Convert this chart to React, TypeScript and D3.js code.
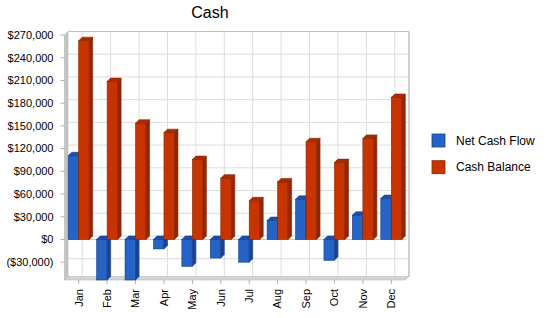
import * as d3 from 'd3'

const months = ['Jan', 'Feb', 'Mar', 'Apr', 'May', 'Jun', 'Jul', 'Aug', 'Sep', 'Oct', 'Nov', 'Dec']
const netCashFlow = [110500, -54000, -55000, -12500, -35500, -24500, -30000, 25000, 53000, -27500, 32000, 54000]
const cashBalance = [262500, 208500, 153500, 141000, 105500, 81000, 51000, 76000, 129000, 101500, 133500, 187500]
const yTicks = [-30000, 0, 30000, 60000, 90000, 120000, 150000, 180000, 210000, 240000, 270000]
const seriesNames = ['Net Cash Flow', 'Cash Balance']

const FONT = '"Liberation Sans", Arial, sans-serif'
const DEPTH = 3.5

const colors = [
  { front: '#2563c6', top: '#1d4fa8', side: '#1a4490', edge: '#18408a' },
  { front: '#c83400', top: '#a82c00', side: '#922600', edge: '#8a2400' },
]

const fmt = (v: number) => {
  const s = '$' + d3.format(',')(Math.abs(v))
  return v < 0 ? `(${s})` : s
}

function Bar({ x, w, y0, y1, c }: { x: number; w: number; y0: number; y1: number; c: typeof colors[0] }) {
  const top = Math.min(y0, y1)
  const bot = Math.max(y0, y1)
  const d = DEPTH
  return (
    <g>
      <rect x={x} y={top} width={w} height={bot - top} fill={c.front} stroke={c.edge} strokeWidth={0.6} />
      <polygon
        points={`${x},${top} ${x + d},${top - d} ${x + w + d},${top - d} ${x + w},${top}`}
        fill={c.top}
        stroke={c.edge}
        strokeWidth={0.6}
      />
      <polygon
        points={`${x + w},${top} ${x + w + d},${top - d} ${x + w + d},${bot - d} ${x + w},${bot}`}
        fill={c.side}
        stroke={c.edge}
        strokeWidth={0.6}
      />
    </g>
  )
}

export default function App() {
  const left = 64.5
  const right = 405.5
  const yTop = 35
  const yBot = 280

  const x = d3.scaleBand().domain(months).range([left, right])
  const y = d3.scaleLinear().domain([-53500, 270000]).range([yBot, yTop]).clamp(true)
  const bw = x.bandwidth()
  const barW = bw * 0.37
  const cx = (m: string) => (x(m) ?? 0) + bw / 2

  const bLeft = left + DEPTH
  const bRight = right + DEPTH

  return (
    <svg width={550} height={318} style={{ position: 'absolute', left: 0, top: 0, background: '#fff' }} fontFamily={FONT}>
      <text x={210} y={18} textAnchor="middle" fontSize={16} fill="#000">
        Cash
      </text>

      {/* back wall grid */}
      {yTicks.map(t => (
        <line key={'h' + t} x1={bLeft} x2={bRight} y1={y(t) - DEPTH} y2={y(t) - DEPTH} stroke="#dcdcdc" strokeWidth={1} />
      ))}
      {months.map(m => (
        <line key={'v' + m} x1={cx(m) + DEPTH} x2={cx(m) + DEPTH} y1={yTop - DEPTH} y2={yBot - DEPTH} stroke="#dcdcdc" strokeWidth={1} />
      ))}
      <line x1={bLeft} x2={bRight} y1={yTop - DEPTH} y2={yTop - DEPTH} stroke="#c0c0c0" strokeWidth={1} />
      <line x1={bRight} x2={bRight} y1={yTop - DEPTH} y2={yBot - DEPTH} stroke="#c0c0c0" strokeWidth={1.5} />

      {/* left wall and floor */}
      <polygon
        points={`${left},${yTop} ${bLeft},${yTop - DEPTH} ${bLeft},${yBot - DEPTH} ${left},${yBot}`}
        fill="#c4c4c4"
        stroke="#b4b4b4"
        strokeWidth={0.6}
      />
      <polygon
        points={`${left},${yBot} ${bLeft},${yBot - DEPTH} ${bRight},${yBot - DEPTH} ${right},${yBot}`}
        fill="#d4d4d4"
        stroke="#b8b8b8"
        strokeWidth={0.6}
      />
      <line x1={left} x2={right} y1={y(0)} y2={y(0)} stroke="#c8c8c8" strokeWidth={1} />

      {/* y axis */}
      {yTicks.map(t => (
        <g key={'yt' + t}>
          <line x1={left - 4} x2={left} y1={y(t)} y2={y(t)} stroke="#b0b0b0" />
          <text x={53.5} y={y(t)} dy="0.35em" textAnchor="end" fontSize={11} fill="#000">
            {fmt(t)}
          </text>
        </g>
      ))}

      {/* x axis */}
      {months.map(m => (
        <g key={'xt' + m}>
          <line x1={cx(m)} x2={cx(m)} y1={yBot} y2={yBot + 4} stroke="#b0b0b0" />
          <text
            transform={`translate(${cx(m)},${289}) rotate(-90)`}
            dy="0.35em"
            textAnchor="end"
            fontSize={11}
            fill="#000"
          >
            {m}
          </text>
        </g>
      ))}

      {/* bars */}
      {months.map((m, i) => (
        <g key={'b' + m}>
          <Bar x={cx(m) - barW} w={barW} y0={y(0)} y1={y(netCashFlow[i])} c={colors[0]} />
          <Bar x={cx(m)} w={barW} y0={y(0)} y1={y(cashBalance[i])} c={colors[1]} />
        </g>
      ))}

      {/* legend */}
      {seriesNames.map((s, i) => (
        <g key={s} transform={`translate(432,${134 + i * 26.7})`}>
          <rect x={0} y={0} width={13} height={13} fill={colors[i].front} stroke={colors[i].edge} strokeWidth={0.8} />
          <text x={24} y={6.5} dy="0.35em" fontSize={12} fill="#000">
            {s}
          </text>
        </g>
      ))}
    </svg>
  )
}
